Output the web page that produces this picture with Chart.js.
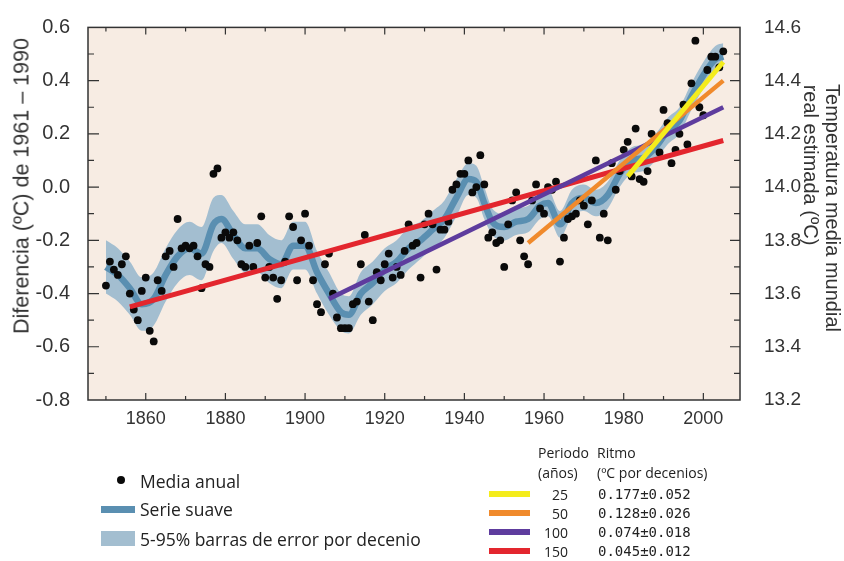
<!DOCTYPE html>
<html>
<head>
<meta charset="utf-8">
<script src="https://cdn.jsdelivr.net/npm/chart.js@4.4.1/dist/chart.umd.min.js"></script>
<style>
html, body { margin: 0; padding: 0; background: #fff; }
#wrap { position: relative; width: 844px; height: 561px; overflow: hidden; font-family: 'Liberation Sans', Arial, sans-serif; color: #333; }
#chart { position: absolute; left: 0; top: 0; }
.ttl { position: absolute; white-space: nowrap; font-size: 20px; transform: translate(-50%, -50%) rotate(var(--rot)); }
.lg { position: absolute; white-space: nowrap; font-family: 'Open Sans', sans-serif; color: #222; }
.lg-left { font-size: 17.5px; transform: translateY(-50%); }
.lg-head { font-size: 14px; transform: translateY(-50%); }
.lg-num { font-family: 'DejaVu Sans Mono', monospace; font-size: 14px; transform: translateY(-50%); }
.sw { position: absolute; }
</style>
</head>
<body>
<div id="wrap">
  <canvas id="chart" width="844" height="561"></canvas>
  <div class="ttl" style="left:22px; top:186px; font-size:21.5px; --rot:-90deg;">Diferencia (ºC) de 1961 – 1990</div>
  <div class="ttl" style="left:832px; top:208px; --rot:90deg;">Temperatura media mundial</div>
  <div class="ttl" style="left:810px; top:165px; --rot:90deg;">real estimada (ºC)</div>
  <div id="legend"></div>
</div>
<script>
// Media anual 1850-2005 (diferencia respecto a 1961-1990, ºC)
const firstYear = 1850;
const annualMean = [
    -0.37, -0.28, -0.31, -0.33, -0.29, -0.26, -0.40, -0.46, -0.50, -0.39,
    -0.34, -0.54, -0.58, -0.35, -0.39, -0.26, -0.24, -0.30, -0.12, -0.23,
    -0.22, -0.23, -0.22, -0.26, -0.38, -0.29, -0.30, 0.05, 0.07, -0.19,
    -0.17, -0.19, -0.17, -0.20, -0.29, -0.30, -0.22, -0.30, -0.21, -0.11,
    -0.34, -0.30, -0.34, -0.42, -0.35, -0.28, -0.11, -0.15, -0.35, -0.20,
    -0.10, -0.22, -0.35, -0.44, -0.47, -0.29, -0.25, -0.40, -0.49, -0.53,
    -0.53, -0.53, -0.44, -0.43, -0.29, -0.18, -0.43, -0.50, -0.32, -0.35,
    -0.29, -0.25, -0.34, -0.30, -0.33, -0.24, -0.14, -0.22, -0.21, -0.34,
    -0.14, -0.10, -0.14, -0.31, -0.16, -0.16, -0.13, -0.01, 0.01, 0.05,
    0.05, 0.10, -0.02, 0.00, 0.12, 0.01, -0.19, -0.17, -0.21, -0.20,
    -0.30, -0.14, -0.05, -0.02, -0.20, -0.26, -0.29, -0.05, 0.01, -0.08,
    -0.10, 0.00, -0.01, 0.02, -0.28, -0.19, -0.12, -0.11, -0.10, -0.05,
    -0.07, -0.14, -0.05, 0.10, -0.19, -0.10, -0.20, 0.09, -0.01, 0.06,
    0.14, 0.17, 0.04, 0.22, 0.03, 0.02, 0.06, 0.20, 0.18, 0.13,
    0.29, 0.24, 0.09, 0.14, 0.20, 0.31, 0.16, 0.39, 0.55, 0.30,
    0.27, 0.44, 0.49, 0.49, 0.45, 0.51
];

// Serie suave y barras de error 5-95%
const smoothYears = [1850, 1853, 1856, 1859, 1862, 1865, 1868, 1871, 1874, 1877, 1879, 1882, 1885, 1888, 1891, 1894, 1897, 1900, 1903, 1906, 1909, 1911, 1914, 1917, 1920, 1923, 1926, 1929, 1932, 1935, 1938, 1941, 1943, 1945, 1947, 1950, 1953, 1956, 1959, 1961, 1964, 1967, 1970, 1973, 1976, 1979, 1982, 1985, 1988, 1991, 1994, 1997, 2000, 2003, 2005];
const smoothVals = [-0.30, -0.33, -0.38, -0.44, -0.42, -0.33, -0.26, -0.23, -0.25, -0.14, -0.12, -0.18, -0.23, -0.23, -0.27, -0.29, -0.22, -0.22, -0.32, -0.40, -0.47, -0.48, -0.40, -0.36, -0.31, -0.28, -0.23, -0.20, -0.16, -0.12, -0.04, 0.03, 0.02, -0.06, -0.13, -0.15, -0.13, -0.12, -0.07, -0.06, -0.14, -0.06, -0.04, -0.06, -0.03, 0.05, 0.10, 0.11, 0.15, 0.21, 0.25, 0.34, 0.42, 0.48, 0.49];
const bandUpper = [-0.20, -0.23, -0.28, -0.34, -0.32, -0.23, -0.16, -0.13, -0.15, -0.04, -0.03, -0.09, -0.14, -0.14, -0.18, -0.20, -0.13, -0.13, -0.24, -0.32, -0.40, -0.41, -0.32, -0.28, -0.23, -0.20, -0.15, -0.13, -0.09, -0.05, 0.03, 0.09, 0.08, 0.00, -0.08, -0.10, -0.08, -0.07, -0.02, -0.01, -0.09, -0.01, 0.01, -0.01, 0.02, 0.10, 0.15, 0.16, 0.20, 0.26, 0.30, 0.39, 0.47, 0.53, 0.54];
const bandLower = [-0.40, -0.43, -0.48, -0.54, -0.52, -0.43, -0.36, -0.33, -0.35, -0.24, -0.21, -0.27, -0.32, -0.32, -0.36, -0.38, -0.31, -0.31, -0.40, -0.48, -0.54, -0.55, -0.48, -0.44, -0.39, -0.36, -0.31, -0.27, -0.23, -0.19, -0.11, -0.03, -0.04, -0.12, -0.18, -0.20, -0.18, -0.17, -0.12, -0.11, -0.19, -0.11, -0.09, -0.11, -0.08, 0.00, 0.05, 0.06, 0.10, 0.16, 0.20, 0.29, 0.37, 0.43, 0.44];

// Tendencias lineales: periodo (años), ritmo, inicio y fin
const trendPeriods = ['25', '50', '100', '150'];
const trendRates = ['0.177±0.052', '0.128±0.026', '0.074±0.018', '0.045±0.012'];
const trendYears = [[1981, 2005], [1956, 2005], [1906, 2005], [1856, 2005]];
const trendVals = [[0.04, 0.47], [-0.21, 0.40], [-0.42, 0.30], [-0.45, 0.175]];
const trendColors = ['#f4ec1c', '#f08a2c', '#5e3c9e', '#e3262e'];

// Ejes
const xTickLabels = [1860, 1880, 1900, 1920, 1940, 1960, 1980, 2000];
const xTickMarks = [1850, 1860, 1870, 1880, 1890, 1900, 1910, 1920, 1930, 1940, 1950, 1960, 1970, 1980, 1990, 2000];
const yTickLabels = [-0.8, -0.6, -0.4, -0.2, 0.0, 0.2, 0.4, 0.6];
const yTickMarks = [-0.7, -0.6, -0.5, -0.4, -0.3, -0.2, -0.1, 0.0, 0.1, 0.2, 0.3, 0.4, 0.5];
const y2TickLabels = [13.2, 13.4, 13.6, 13.8, 14.0, 14.2, 14.4, 14.6];

const colors = {
    plotBg: '#f7ece3',
    band: '#a3bed0',
    smooth: '#5a8fb1',
    dot: '#0a0a0a',
    axis: '#333333'
};

const frame = {
    id: 'frame',
    beforeDraw(chart) {
        const { ctx, chartArea: a } = chart;
        ctx.save();
        ctx.fillStyle = colors.plotBg;
        ctx.fillRect(a.left, a.top, a.right - a.left, a.bottom - a.top);
        ctx.restore();
    },
    afterDraw(chart) {
        const { ctx, chartArea: a, scales } = chart;
        ctx.save();
        ctx.strokeStyle = colors.axis;
        ctx.lineWidth = 1.5;
        ctx.strokeRect(a.left, a.top, a.right - a.left, a.bottom - a.top);
        ctx.lineWidth = 1.2;
        ctx.beginPath();
        xTickMarks.forEach(v => {
            const px = scales.x.getPixelForValue(v);
            const len = v % 20 === 0 ? 7 : 4;
            ctx.moveTo(px, a.bottom); ctx.lineTo(px, a.bottom - len);
            ctx.moveTo(px, a.top); ctx.lineTo(px, a.top + len);
        });
        yTickMarks.forEach(v => {
            const py = scales.y.getPixelForValue(v);
            const major = yTickLabels.some(t => Math.abs(t - v) < 1e-6);
            ctx.moveTo(a.left, py); ctx.lineTo(a.left + (major ? 11 : 6), py);
            ctx.moveTo(a.right, py); ctx.lineTo(a.right - (major ? 10 : 6), py);
        });
        ctx.stroke();
        ctx.restore();
    }
};

const trendSets = trendYears.map((ys, i) => ({
    type: 'line',
    data: ys.map((yr, j) => ({ x: yr, y: trendVals[i][j] })),
    borderColor: trendColors[i],
    borderWidth: i === 0 || i === 3 ? 5 : 4.5,
    pointRadius: 0,
    fill: false
}));

const ctx = document.getElementById('chart').getContext('2d');
new Chart(ctx, {
    type: 'line',
    data: {
        datasets: [
            ...trendSets,
            {
                label: 'Media anual',
                data: annualMean.map((v, i) => ({ x: firstYear + i, y: v })),
                showLine: false,
                pointRadius: 3.9,
                pointBackgroundColor: colors.dot,
                pointBorderWidth: 0
            },
            {
                label: 'Serie suave',
                data: smoothYears.map((yr, i) => ({ x: yr, y: smoothVals[i] })),
                borderColor: colors.smooth,
                borderWidth: 6.5,
                pointRadius: 0,
                cubicInterpolationMode: 'monotone',
                fill: false
            },
            {
                label: 'Banda sup',
                data: smoothYears.map((yr, i) => ({ x: yr, y: bandUpper[i] })),
                borderWidth: 0,
                borderColor: 'rgba(0,0,0,0)',
                backgroundColor: colors.band,
                pointRadius: 0,
                cubicInterpolationMode: 'monotone',
                fill: '+1'
            },
            {
                label: 'Banda inf',
                data: smoothYears.map((yr, i) => ({ x: yr, y: bandLower[i] })),
                borderWidth: 0,
                borderColor: 'rgba(0,0,0,0)',
                pointRadius: 0,
                cubicInterpolationMode: 'monotone',
                fill: false
            }
        ]
    },
    options: {
        responsive: false,
        animation: false,
        layout: { padding: { top: 15, bottom: 131, left: 0, right: 0 } },
        plugins: { legend: { display: false }, tooltip: { enabled: false } },
        scales: {
            x: {
                type: 'linear',
                min: 1845.5, max: 2009.2,
                afterBuildTicks: s => { s.ticks = xTickLabels.map(v => ({ value: v })); },
                afterFit: s => { s.height = 30; },
                grid: { display: false },
                border: { display: false },
                ticks: { color: colors.axis, font: { family: "'Liberation Sans', Arial", size: 18 }, padding: 0, maxRotation: 0, callback: v => String(v) }
            },
            y: {
                position: 'left',
                min: -0.8, max: 0.6,
                afterBuildTicks: s => { s.ticks = yTickLabels.map(v => ({ value: v })); },
                afterFit: s => { s.width = 88; },
                grid: { display: false },
                border: { display: false },
                ticks: { color: colors.axis, font: { family: "'Liberation Sans', Arial", size: 20 }, padding: 10, callback: v => v.toFixed(1) }
            },
            y2: {
                position: 'right',
                min: 13.2, max: 14.6,
                afterBuildTicks: s => { s.ticks = y2TickLabels.map(v => ({ value: v })); },
                afterFit: s => { s.width = 104; },
                grid: { display: false },
                border: { display: false },
                ticks: { color: colors.axis, font: { family: "'Liberation Sans', Arial", size: 19 }, padding: 16, callback: v => v.toFixed(1) }
            }
        }
    },
    plugins: [frame]
});

// Leyenda
const legend = document.getElementById('legend');
const add = (html) => legend.insertAdjacentHTML('beforeend', html);
add('<div class="sw" style="left:117px; top:476px; width:8px; height:8px; border-radius:50%; background:' + colors.dot + ';"></div>');
add('<div class="lg lg-left" style="left:140px; top:481px;">Media anual</div>');
add('<div class="sw" style="left:101px; top:506px; width:34px; height:7px; background:' + colors.smooth + ';"></div>');
add('<div class="lg lg-left" style="left:140px; top:509px;">Serie suave</div>');
add('<div class="sw" style="left:101px; top:531px; width:34px; height:15px; background:' + colors.band + ';"></div>');
add('<div class="lg lg-left" style="left:140px; top:539px;">5-95% barras de error por decenio</div>');

add('<div class="lg lg-head" style="left:538px; top:452px;">Periodo</div>');
add('<div class="lg lg-head" style="left:597px; top:452px;">Ritmo</div>');
add('<div class="lg lg-head" style="left:538px; top:472px;">(años)</div>');
add('<div class="lg lg-head" style="left:597px; top:472px;">(ºC por decenios)</div>');
trendPeriods.forEach((p, i) => {
    const y = 494 + i * 19;
    add('<div class="sw" style="left:489px; top:' + (y - 3) + 'px; width:41px; height:6px; background:' + trendColors[i] + ';"></div>');
    add('<div class="lg lg-head" style="left:538px; top:' + y + 'px; width:30px; text-align:right;">' + p + '</div>');
    add('<div class="lg lg-num" style="left:598px; top:' + y + 'px;">' + trendRates[i] + '</div>');
});
</script>
</body>
</html>
